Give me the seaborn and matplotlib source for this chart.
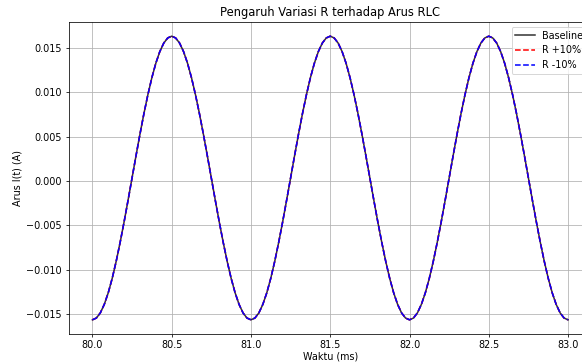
import numpy as np
import pandas as pd
import matplotlib
matplotlib.use("Agg")
import matplotlib.pyplot as plt
import seaborn as sns

# Time axis (ms): samples from 80.0 to 83.0 ms
t_ms = np.linspace(80.0, 83.0, 121)

# Current values (A)
baseline = [
    -0.01563, -0.01543, -0.01485, -0.01389, -0.01258, -0.01095, -0.00904, -0.00690, -0.00459, -0.00215,
    0.00035, 0.00285, 0.00529, 0.00761, 0.00974, 0.01165, 0.01328, 0.01459, 0.01555, 0.01613,
    0.01633, 0.01613, 0.01555, 0.01459, 0.01328, 0.01165, 0.00974, 0.00761, 0.00529, 0.00285,
    0.00035, -0.00215, -0.00459, -0.00690, -0.00904, -0.01095, -0.01258, -0.01389, -0.01485, -0.01543,
    -0.01563, -0.01543, -0.01485, -0.01389, -0.01258, -0.01095, -0.00904, -0.00690, -0.00459, -0.00215,
    0.00035, 0.00285, 0.00529, 0.00761, 0.00974, 0.01165, 0.01328, 0.01459, 0.01555, 0.01613,
    0.01633, 0.01613, 0.01555, 0.01459, 0.01328, 0.01165, 0.00974, 0.00761, 0.00529, 0.00285,
    0.00035, -0.00215, -0.00459, -0.00690, -0.00904, -0.01095, -0.01258, -0.01389, -0.01485, -0.01543,
    -0.01563, -0.01543, -0.01485, -0.01389, -0.01258, -0.01095, -0.00904, -0.00690, -0.00459, -0.00215,
    0.00035, 0.00285, 0.00529, 0.00761, 0.00974, 0.01165, 0.01328, 0.01459, 0.01555, 0.01613,
    0.01633, 0.01613, 0.01555, 0.01459, 0.01328, 0.01165, 0.00974, 0.00761, 0.00529, 0.00285,
    0.00035, -0.00215, -0.00459, -0.00690, -0.00904, -0.01095, -0.01258, -0.01389, -0.01485, -0.01543,
    -0.01563,
]
# The R +10% and R -10% curves overlap the baseline in the chart
r_plus10 = list(baseline)
r_minus10 = list(baseline)

labels = ["Baseline", "R +10%", "R -10%"]
colors = ["black", "red", "blue"]
styles = ["-", "--", "--"]
alphas = [0.8, 1.0, 1.0]

df = pd.DataFrame({"t": t_ms, "Baseline": baseline, "R +10%": r_plus10, "R -10%": r_minus10})

DPI = 69
fig = plt.figure(figsize=(582 / DPI, 363 / DPI), dpi=DPI)
ax = fig.add_axes([0.1179, 0.0799, 0.899, 0.8595])

for lab, col, ls, al in zip(labels, colors, styles, alphas):
    sns.lineplot(data=df, x="t", y=lab, ax=ax, color=col, linestyle=ls,
                 label=lab, linewidth=1.6, alpha=al)

ax.set_title("Pengaruh Variasi R terhadap Arus RLC")
ax.set_xlabel("Waktu (ms)", labelpad=1.5)
ax.set_ylabel("Arus I(t) (A)")
ax.tick_params(axis="x", pad=2.5)
ax.grid(True)
ax.legend(loc="upper right")

fig.savefig("out.png", dpi=DPI)
